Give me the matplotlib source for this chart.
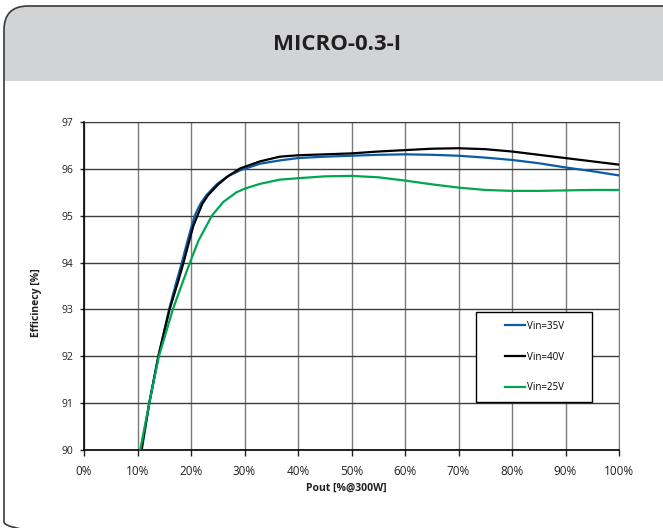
import matplotlib
matplotlib.use("Agg")
import matplotlib.pyplot as plt
from matplotlib.patches import FancyBboxPatch, Rectangle
from matplotlib.lines import Line2D

# datos
x_35 = [10.8, 12.2, 13.9, 15.9, 17.3, 18.3, 19.2, 20.1, 20.7, 21.3, 21.9, 22.9, 24.8, 26.7, 29.2, 32.9, 36.6,
        40, 45, 50, 55, 60, 65, 70, 75, 80, 85, 90, 95, 100]
y_35 = [90.0, 91.0, 92.0, 93.0, 93.6, 94.0, 94.4, 94.77, 95.0, 95.15, 95.28, 95.44, 95.67, 95.83, 95.97, 96.11, 96.18,
        96.23, 96.26, 96.28, 96.3, 96.31, 96.3, 96.28, 96.24, 96.19, 96.12, 96.03, 95.95, 95.86]

x_40 = [10.7, 12.2, 13.9, 16.0, 17.6, 18.6, 20.4, 21.2, 22.1, 23.2, 25.1, 27, 29.2, 32.9, 36.6,
        40, 45, 50, 55, 60, 65, 70, 75, 80, 85, 90, 95, 100]
y_40 = [90.0, 91.0, 92.0, 93.0, 93.6, 94.0, 94.77, 95.0, 95.25, 95.44, 95.67, 95.85, 96.01, 96.16, 96.26,
        96.29, 96.31, 96.33, 96.37, 96.4, 96.43, 96.44, 96.42, 96.37, 96.3, 96.23, 96.16, 96.09]

x_25 = [10.5, 12.2, 14.0, 16.6, 18.5, 19.8, 21.4, 23.9, 26.0, 28.5, 30.1, 32.9, 36.6,
        40, 45, 50, 55, 60, 65, 70, 75, 80, 85, 90, 95, 100]
y_25 = [90.0, 91.0, 92.0, 93.0, 93.6, 94.0, 94.47, 95.0, 95.29, 95.5, 95.58, 95.68, 95.77,
        95.8, 95.84, 95.85, 95.82, 95.75, 95.67, 95.6, 95.55, 95.53, 95.53, 95.54, 95.55, 95.55]

series = [("Vin=35V", x_35, y_35, "#0B5CA8"),
          ("Vin=40V", x_40, y_40, "#000000"),
          ("Vin=25V", x_25, y_25, "#00A651")]

xticks = list(range(0, 101, 10))
xlabels = [f"{t}%" for t in xticks]
yticks = list(range(90, 98))

plt.rcParams['font.family'] = ['Open Sans', 'DejaVu Sans']

fig = plt.figure(figsize=(6.63, 5.28), dpi=100)

# fondo: marco redondeado y cabecera gris (coordenadas en pixeles)
bg = fig.add_axes([0, 0, 1, 1])
bg.set_xlim(0, 663)
bg.set_ylim(528, 0)
bg.axis("off")
bg.add_patch(FancyBboxPatch((4, 6), 700, 540, boxstyle="round,pad=0,rounding_size=24",
                            fc="white", ec="none"))
bg.add_patch(FancyBboxPatch((4, 6), 700, 75, boxstyle="round,pad=0,rounding_size=24",
                            fc="#D1D3D4", ec="none"))
bg.add_patch(Rectangle((4, 40), 700, 41, fc="#D1D3D4", ec="none", lw=0))
bg.add_patch(FancyBboxPatch((4, 6), 700, 540, boxstyle="round,pad=0,rounding_size=24",
                            fc="none", ec="#3a3a3a", lw=1.2))
bg.text(337, 44, "MICRO-0.3-I", ha="center", va="center", fontsize=16,
        fontweight="bold", color="#231F20")

ax = fig.add_axes([84 / 663, 1 - 450 / 528, 535 / 663, 328 / 528])
ax.set_facecolor("none")

for nombre, xs, ys, c in series:
    ax.plot(xs, ys, color=c, lw=1.6, label=nombre, zorder=3,
            solid_joinstyle="round", solid_capstyle="round")

ax.set_xlim(0, 100)
ax.set_ylim(90, 97)
ax.set_xticks(xticks)
ax.set_xticklabels(xlabels)
ax.set_yticks(yticks)

ax.grid(axis="y", color="#3c3c3c", lw=1.0, zorder=1)
ax.grid(axis="x", color="#7a7a7a", lw=1.0, zorder=1)
ax.set_axisbelow(True)

ax.spines["left"].set_color("black")
ax.spines["bottom"].set_color("black")
ax.spines["left"].set_linewidth(1.2)
ax.spines["bottom"].set_linewidth(1.2)
ax.spines["top"].set_color("#3c3c3c")
ax.spines["right"].set_color("#7a7a7a")

ax.tick_params(axis="y", length=3, width=1, pad=5, labelsize=7.5, colors="#231F20")
ax.tick_params(axis="x", length=4, width=1, pad=7, labelsize=8.5, colors="#231F20")

ax.set_ylabel("Efficinecy [%]", fontsize=7.5, fontweight="bold", color="#231F20")
ax.yaxis.set_label_coords(-0.079, 0.45)
ax.set_xlabel("Pout [%@300W]", fontsize=7.5, fontweight="bold", color="#231F20")
ax.xaxis.set_label_coords(0.49, -0.1)

# leyenda con su caja
ax.add_patch(Rectangle((0.733, 0.146), 0.217, 0.275, transform=ax.transAxes,
                       fc="white", ec="black", lw=1.0, zorder=4))
handles = [Line2D([], [], color=c, lw=1.6) for _, _, _, c in series]
leg = ax.legend(handles, [s[0] for s in series], loc="center",
                bbox_to_anchor=(0.8415, 0.2835), frameon=False, fontsize=7,
                labelspacing=2.05, handlelength=2.1, handletextpad=0.15)
leg.set_zorder(5)

fig.savefig("out.png", dpi=100)
